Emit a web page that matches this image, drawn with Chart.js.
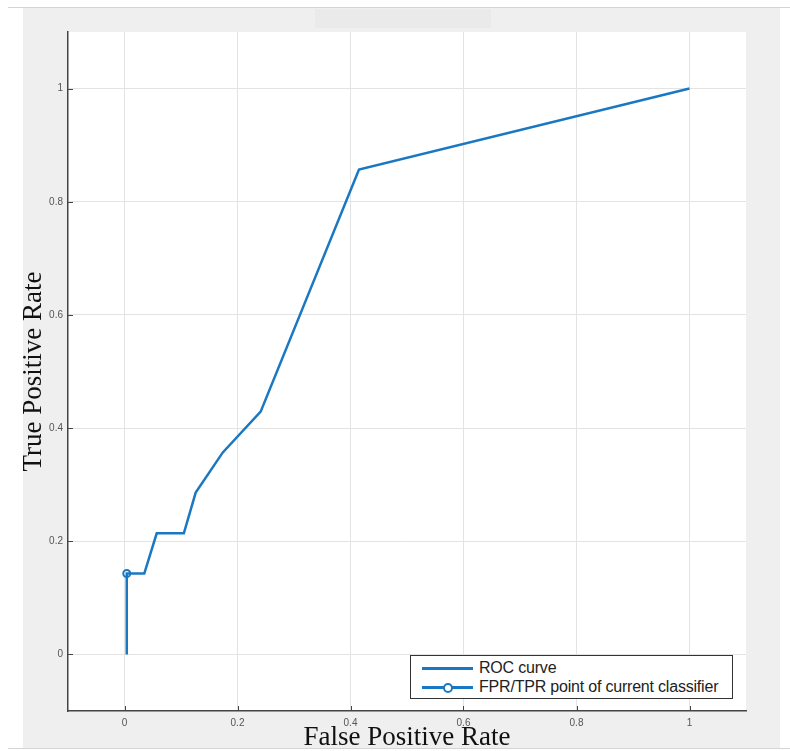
<!DOCTYPE html>
<html><head><meta charset="utf-8">
<script src="https://cdn.jsdelivr.net/npm/chart.js@4.4.0/dist/chart.umd.min.js"></script>
<style>
html,body{margin:0;padding:0;background:#fff;}
#wrap{position:relative;width:790px;height:751px;overflow:hidden;}
#frame{position:absolute;left:23px;top:8px;width:757px;height:740px;background:#efefef;}
#topline{position:absolute;left:8px;top:7px;width:782px;height:1px;background:#d4d4d4;}
#botline{position:absolute;left:8px;top:748px;width:782px;height:1px;background:#d4d4d4;}
#patch{position:absolute;left:315px;top:9px;width:176px;height:19px;background:#eaeaea;}
canvas{position:absolute;left:0;top:0;}
#legend{position:absolute;left:410px;top:655px;width:321px;height:42px;border:1px solid #333;background:#fff;font-family:'Liberation Sans',Arial,sans-serif;font-size:16px;color:#222;}
.row{position:absolute;left:0;width:100%;height:20px;}
.smp{position:absolute;left:11px;top:9px;width:51px;height:2.5px;}
.dot{position:absolute;left:21px;top:-4px;width:7px;height:7px;border-radius:50%;background:#fff;box-sizing:border-box;}
.txt{position:absolute;left:68px;top:0;line-height:20px;white-space:nowrap;letter-spacing:-0.2px;}
</style>
</head><body>
<div id="wrap">
  <div id="frame"></div><div id="topline"></div><div id="botline"></div><div id="patch"></div>
  <canvas id="c" width="790" height="751"></canvas>
  <div id="legend"></div>
</div>
<script>
// Data
const rocFPR = [0.004, 0.004, 0.035, 0.057, 0.105, 0.126, 0.174, 0.241, 0.415, 1.0];
const rocTPR = [0.0, 0.143, 0.143, 0.214, 0.214, 0.286, 0.357, 0.429, 0.857, 1.0];
const pointFPR = [0.004];
const pointTPR = [0.143];
const xTickValues = [0, 0.2, 0.4, 0.6, 0.8, 1];
const yTickValues = [0, 0.2, 0.4, 0.6, 0.8, 1];
const seriesLabels = ['ROC curve', 'FPR/TPR point of current classifier'];
const xTitle = 'False Positive Rate';
const yTitle = 'True Positive Rate';

const BLUE = '#1a78c2';
const toPts = (xs, ys) => xs.map((v, i) => ({x: v, y: ys[i]}));

const bgPlugin = {
  id: 'bgPlugin',
  beforeDraw(chart) {
    const {ctx, chartArea: a} = chart;
    ctx.save(); ctx.fillStyle = '#fff';
    ctx.fillRect(a.left, a.top, a.right - a.left, a.bottom - a.top);
    ctx.restore();
  }
};
const inwardTicks = {
  id: 'inwardTicks',
  afterDraw(chart) {
    const {ctx, chartArea: a, scales: {x, y}} = chart;
    ctx.save(); ctx.strokeStyle = '#444'; ctx.lineWidth = 1; ctx.beginPath();
    x.ticks.forEach(t => { const px = Math.round(x.getPixelForValue(t.value)) + 0.5; ctx.moveTo(px, a.bottom); ctx.lineTo(px, a.bottom - 5); });
    y.ticks.forEach(t => { const py = Math.round(y.getPixelForValue(t.value)) + 0.5; ctx.moveTo(a.left, py); ctx.lineTo(a.left + 5, py); });
    ctx.stroke(); ctx.restore();
  }
};

const tickFont = {family: "'Liberation Sans', Arial, sans-serif", size: 10};
const titleFont = {family: "'Liberation Serif', 'Times New Roman', serif", size: 27, lineHeight: 1};

const chart = new Chart(document.getElementById('c'), {
  type: 'scatter',
  data: {
    datasets: [
      {label: seriesLabels[0], data: toPts(rocFPR, rocTPR), showLine: true, borderColor: BLUE, borderWidth: 2.5, pointRadius: 0, tension: 0, fill: false},
      {label: seriesLabels[1], data: toPts(pointFPR, pointTPR), showLine: false, borderColor: BLUE, pointBorderColor: BLUE, pointBackgroundColor: '#fff', pointBorderWidth: 2, pointRadius: 3.5}
    ]
  },
  options: {
    responsive: false, animation: false,
    layout: {padding: {top: 32, right: 44, left: 0, bottom: 0}},
    plugins: {legend: {display: false}, tooltip: {enabled: false}},
    scales: {
      x: {
        type: 'linear', min: -0.1, max: 1.1,
        afterBuildTicks: s => { s.ticks = xTickValues.map(v => ({value: v})); },
        afterFit: s => { s.height = 40; },
        grid: {color: '#e3e3e3', drawTicks: false, lineWidth: 1},
        border: {display: true, color: '#444', width: 1.5},
        ticks: {padding: 6, color: '#555', font: tickFont, maxRotation: 0, callback: v => String(+(+v).toFixed(2))},
        title: {display: true, text: xTitle, color: '#111', font: titleFont, padding: {top: 0, bottom: 0}}
      },
      y: {
        type: 'linear', min: -0.1, max: 1.1,
        afterBuildTicks: s => { s.ticks = yTickValues.map(v => ({value: v})); },
        afterFit: s => { s.width = 68; },
        grid: {color: '#e3e3e3', drawTicks: false, lineWidth: 1},
        border: {display: true, color: '#444', width: 1.5},
        ticks: {padding: 5, color: '#555', font: tickFont, callback: v => String(+(+v).toFixed(2))},
        title: {display: true, text: yTitle, color: '#111', font: titleFont, padding: {top: 20, bottom: 0}}
      }
    }
  },
  plugins: [bgPlugin, inwardTicks]
});

// HTML legend built from the datasets
const leg = document.getElementById('legend');
const rowTops = [2, 21];
chart.data.datasets.forEach((ds, i) => {
  const row = document.createElement('div'); row.className = 'row'; row.style.top = rowTops[i] + 'px';
  const smp = document.createElement('div'); smp.className = 'smp'; smp.style.background = ds.borderColor;
  if (ds.pointRadius > 0) {
    const d = document.createElement('div'); d.className = 'dot'; d.style.border = '2px solid ' + ds.borderColor;
    d.style.left = '21px'; d.style.top = '-3.5px'; d.style.width = '10px'; d.style.height = '10px';
    smp.appendChild(d);
  }
  const t = document.createElement('div'); t.className = 'txt'; t.textContent = ds.label;
  row.appendChild(smp); row.appendChild(t); leg.appendChild(row);
});
</script>
</body></html>
